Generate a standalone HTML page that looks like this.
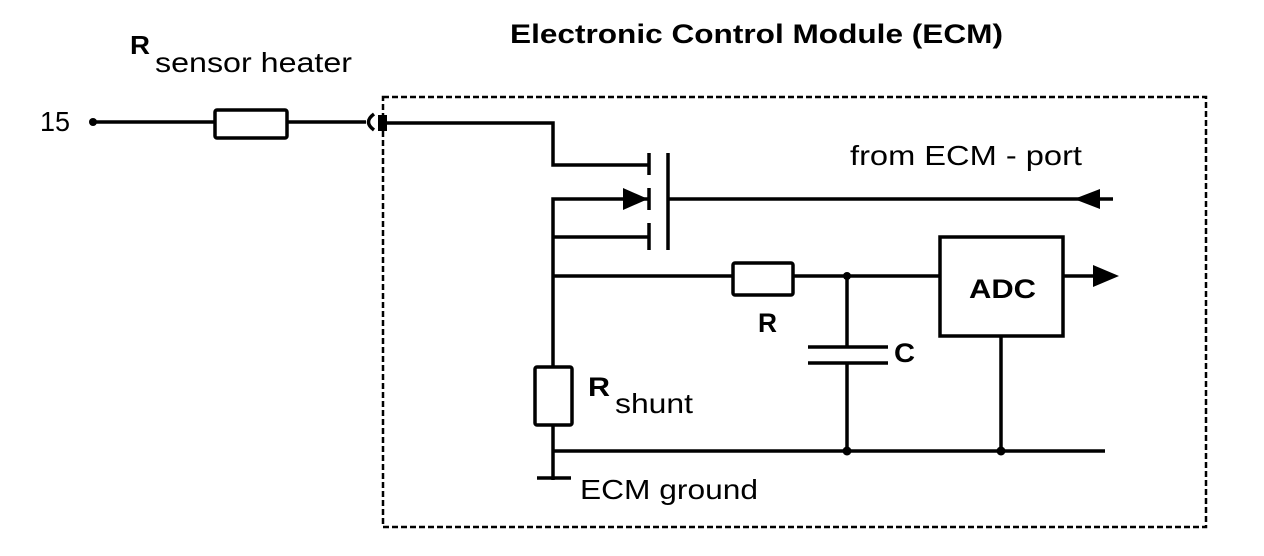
<!DOCTYPE html>
<html><head><style>body{margin:0;background:#fff}svg{display:block}text{font-family:"Liberation Sans",Arial,sans-serif;fill:#000}</style></head><body>
<svg width="1264" height="556" viewBox="0 0 1264 556" xmlns="http://www.w3.org/2000/svg">
<g stroke="#000" stroke-width="3.5" fill="none">
<rect x="383" y="97" width="823" height="430" stroke-dasharray="6,3" stroke-width="2.5"/>
<line x1="93" y1="122" x2="215" y2="122"/>
<rect x="215" y="110" width="72" height="28" rx="2"/>
<line x1="287" y1="122" x2="366" y2="122"/>
<path d="M374 114 Q363 122 374 130"/>
<polyline points="383,123 553,123 553,165 648,165"/>
<line x1="649" y1="153" x2="649" y2="175"/>
<line x1="649" y1="188" x2="649" y2="210"/>
<line x1="649" y1="223" x2="649" y2="250"/>
<line x1="668" y1="153" x2="668" y2="250"/>
<polyline points="648,199 553,199 553,480"/>
<line x1="553" y1="237" x2="648" y2="237"/>
<line x1="668" y1="199" x2="1113" y2="199"/>
<line x1="553" y1="276" x2="733" y2="276"/>
<rect x="733" y="263" width="60" height="32" rx="2"/>
<line x1="793" y1="276" x2="940" y2="276"/>
<rect x="940" y="237" width="123" height="99"/>
<line x1="1063" y1="276" x2="1095" y2="276"/>
<line x1="847" y1="276" x2="847" y2="347"/>
<line x1="808" y1="347" x2="888" y2="347"/>
<line x1="808" y1="363" x2="888" y2="363"/>
<line x1="847" y1="363" x2="847" y2="451"/>
<line x1="1001" y1="336" x2="1001" y2="451"/>
<rect x="535" y="367" width="37" height="58" rx="2" fill="#fff"/>
<line x1="553" y1="451" x2="1105" y2="451"/>
<line x1="537" y1="478" x2="571" y2="478"/>
</g>
<rect x="378" y="115" width="9" height="16" fill="#000"/>
<circle cx="93" cy="122" r="4" fill="#000"/>
<circle cx="847" cy="276" r="4" fill="#000"/>
<circle cx="847" cy="451" r="4.5" fill="#000"/>
<circle cx="1001" cy="451" r="4.5" fill="#000"/>
<polygon points="623,188 648,199 623,210" fill="#000"/>
<polygon points="1100,189 1074,199 1100,209" fill="#000"/>
<polygon points="1093,265 1119,276 1093,287" fill="#000"/>
<text x="510" y="43" font-size="27" font-weight="bold" textLength="493" lengthAdjust="spacingAndGlyphs">Electronic Control Module (ECM)</text>
<text x="130" y="54" font-size="26" font-weight="bold" textLength="20" lengthAdjust="spacingAndGlyphs">R</text>
<text x="155" y="72" font-size="28" textLength="197" lengthAdjust="spacingAndGlyphs">sensor heater</text>
<text x="40" y="131" font-size="28" textLength="30" lengthAdjust="spacingAndGlyphs">15</text>
<text x="850" y="165" font-size="28" textLength="232" lengthAdjust="spacingAndGlyphs">from ECM - port</text>
<text x="969" y="298" font-size="27" font-weight="bold" textLength="67" lengthAdjust="spacingAndGlyphs">ADC</text>
<text x="758" y="332" font-size="27" font-weight="bold" textLength="19" lengthAdjust="spacingAndGlyphs">R</text>
<text x="894" y="362" font-size="27" font-weight="bold" textLength="21" lengthAdjust="spacingAndGlyphs">C</text>
<text x="588" y="396" font-size="27" font-weight="bold" textLength="22" lengthAdjust="spacingAndGlyphs">R</text>
<text x="615" y="413" font-size="28" textLength="78" lengthAdjust="spacingAndGlyphs">shunt</text>
<text x="580" y="499" font-size="28" textLength="178" lengthAdjust="spacingAndGlyphs">ECM ground</text>
</svg>
</body></html>
